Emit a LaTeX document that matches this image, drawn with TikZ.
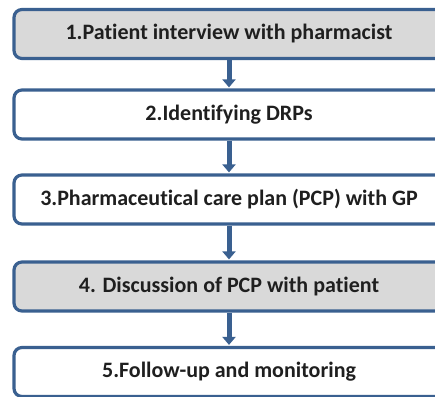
\documentclass[tikz,border=0pt]{standalone}
\usepackage{fontspec}
\setmainfont[RawFeature={-liga}]{Carlito}
\usetikzlibrary{arrows.meta}
\definecolor{bord}{HTML}{3A6090}
\definecolor{grayfill}{HTML}{D9D9D9}
\tikzset{
  stepbox/.style={draw=bord, line width=3.2pt, rounded corners=8pt, fill=white,
    minimum width=430pt, minimum height=49pt, inner sep=0pt,
    font=\fontsize{22}{24}\selectfont\bfseries, text=black!88},
  graybox/.style={stepbox, fill=grayfill},
  flow/.style={draw=bord, line width=5pt, -{Triangle[width=13pt,length=8pt]}, shorten >=1pt}
}
\begin{document}
\begin{tikzpicture}[x=1pt,y=-1pt]
\useasboundingbox (0,0) rectangle (435,396);
\clip (0,0) rectangle (435,396);
\fill[white] (0,0) rectangle (435,396);
\node[graybox] (s1) at (229,34) {1.Patient interview with pharmacist};
\node[stepbox] (s2) at (229,114.5) {2.Identifying DRPs};
\node[stepbox] (s3) at (229,199.5) {3.Pharmaceutical care plan (PCP) with GP};
\node[graybox] (s4) at (229,286.5) {4. Discussion of PCP with patient};
\node[stepbox] (s5) at (229,372) {5.Follow-up and monitoring};
\draw[flow] (s1.south) -- (s2.north);
\draw[flow] (s2.south) -- (s3.north);
\draw[flow] (s3.south) -- (s4.north);
\draw[flow] (s4.south) -- (s5.north);
\end{tikzpicture}
\end{document}
